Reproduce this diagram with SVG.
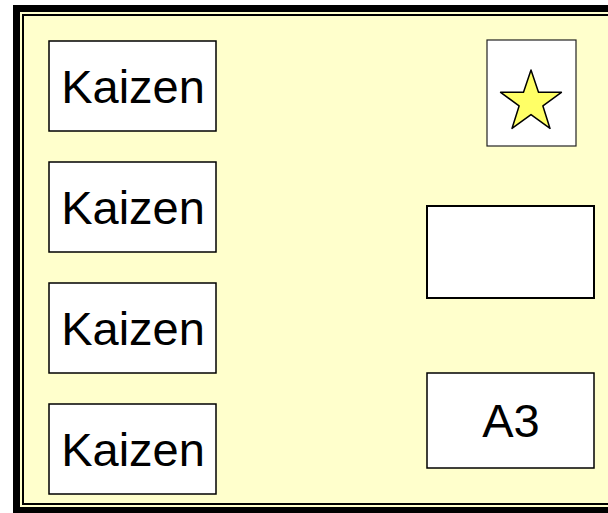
<svg xmlns="http://www.w3.org/2000/svg" width="608" height="513" viewBox="0 0 608 513">
<style>
.box{fill:#fff;stroke:#000;stroke-width:1.5}
.lbl{font-family:"Liberation Sans",Arial,sans-serif;font-size:47px;fill:#000;text-anchor:middle}
</style>
<rect x="0" y="0" width="608" height="513" fill="#fff"/>
<g id="frame">
<rect x="13" y="5" width="620" height="520" fill="#000"/>
<rect x="20" y="12" width="610" height="495" fill="#FFFFCC"/>
<rect x="23" y="15" width="600" height="489" fill="#FFFFCC" stroke="#000" stroke-width="2"/>
</g>
<g id="kaizen1"><rect class="box" x="49" y="41" width="167" height="90"/><text class="lbl" x="133" y="103">Kaizen</text></g>
<g id="kaizen2"><rect class="box" x="49" y="162" width="167" height="90"/><text class="lbl" x="133" y="224">Kaizen</text></g>
<g id="kaizen3"><rect class="box" x="49" y="283" width="167" height="90"/><text class="lbl" x="133" y="345">Kaizen</text></g>
<g id="kaizen4"><rect class="box" x="49" y="404" width="167" height="90"/><text class="lbl" x="133" y="466">Kaizen</text></g>
<g id="star">
<rect x="487" y="40" width="89" height="106" fill="#fff" stroke="#222" stroke-width="1.2"/>
<polygon points="531,70 538.5,92.3 561.4,92.3 542.9,105.9 550,128.4 531,114.6 512,128.4 519.1,105.9 500.6,92.3 523.5,92.3" fill="#FFFF66" stroke="#000" stroke-width="1.5" stroke-linejoin="round"/>
</g>
<g id="blank"><rect x="427" y="206" width="167" height="92" fill="#fff" stroke="#000" stroke-width="2"/></g>
<g id="a3"><rect class="box" x="427" y="373" width="167" height="95"/><text class="lbl" x="511" y="437">A3</text></g>
<g id="connectors"></g>
</svg>
